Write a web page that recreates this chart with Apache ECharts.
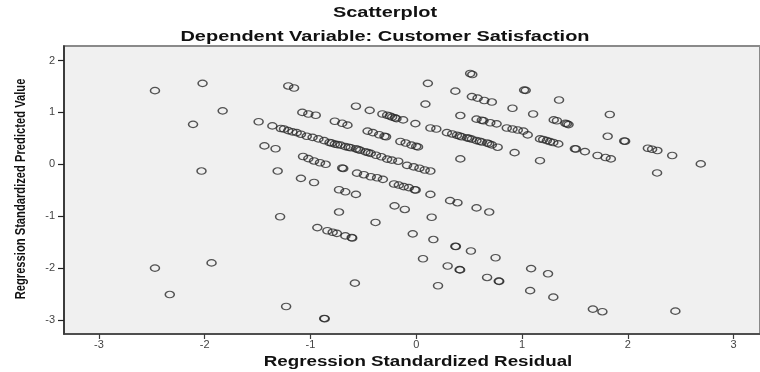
<!DOCTYPE html>
<html>
<head>
<meta charset="utf-8">
<title>Scatterplot</title>
<script src="https://cdn.jsdelivr.net/npm/echarts@6/dist/echarts.min.js"></script>
<style>
  html, body { margin: 0; padding: 0; background: #fff; }
  #chart { width: 760px; height: 372px; }
</style>
</head>
<body>
<div id="chart"></div>
<script>
// x = Regression Standardized Residual, y = Regression Standardized Predicted Value
const xTicks = [-3, -2, -1, 0, 1, 2, 3]
const yTicks = [-3, -2, -1, 0, 1, 2]

// points left of -0.9
const leftPoints = [
  [-2.47, 1.42], [-2.02, 1.56], [-1.83, 1.03], [-2.11, 0.77], [-1.21, 1.51], [-1.155, 1.47],
  [-1.49, 0.82], [-1.36, 0.74], [-1.28, 0.69], [-1.25, 0.68], [-1.21, 0.65], [-1.17, 0.625],
  [-1.13, 0.61], [-1.09, 0.58], [-1.035, 0.54], [-1.077, 1.0], [-1.02, 0.97], [-0.95, 0.945],
  [-1.435, 0.355], [-1.33, 0.30], [-1.07, 0.15], [-1.02, 0.11], [-0.966, 0.065], [-0.91, 0.03],
  [-0.856, 0.0], [-2.03, -0.13], [-1.31, -0.13], [-1.09, -0.27], [-0.966, -0.35],
  [-1.287, -1.01], [-2.47, -2.0], [-1.935, -1.90], [-2.33, -2.51], [-1.23, -2.74]
]

// upper middle
const upperPoints = [
  [0.51, 1.75], [0.53, 1.73], [0.11, 1.56], [0.37, 1.41], [0.526, 1.305], [0.58, 1.275],
  [0.643, 1.23], [0.715, 1.20], [0.91, 1.08], [1.02, 1.43], [1.035, 1.425], [0.087, 1.16],
  [-0.57, 1.12], [-0.44, 1.04], [-0.32, 0.97], [-0.275, 0.945], [-0.25, 0.93], [-0.228, 0.91],
  [-0.20, 0.895], [-0.187, 0.88], [-0.124, 0.856], [-0.008, 0.785], [0.417, 0.94],
  [-0.77, 0.83], [-0.70, 0.79], [-0.65, 0.755]
]

// the long dense diagonal bands
const bandPoints = [
  [-0.98, 0.52], [-0.925, 0.49], [-0.87, 0.457], [-0.82, 0.42], [-0.80, 0.41], [-0.77, 0.39],
  [-0.745, 0.38], [-0.715, 0.37], [-0.67, 0.34], [-0.64, 0.33], [-0.62, 0.32], [-0.57, 0.30],
  [-0.55, 0.285], [-0.53, 0.27], [-0.48, 0.24], [-0.455, 0.225], [-0.43, 0.21], [-0.38, 0.175],
  [-0.33, 0.145], [-0.275, 0.10], [-0.23, 0.08], [-0.17, 0.06], [-0.087, -0.02], [-0.024, -0.05],
  [0.03, -0.075], [0.08, -0.11], [0.134, -0.13],
  [-0.46, 0.64], [-0.41, 0.61], [-0.35, 0.57], [-0.30, 0.54], [-0.285, 0.53], [-0.15, 0.44],
  [-0.10, 0.41], [-0.045, 0.37], [0.0, 0.345], [0.017, 0.335], [0.134, 0.70], [0.19, 0.68],
  [0.29, 0.61], [0.34, 0.585], [0.385, 0.56], [0.41, 0.545], [0.43, 0.53], [0.48, 0.51],
  [0.50, 0.50], [0.526, 0.485], [0.57, 0.457], [0.60, 0.445], [0.62, 0.43], [0.67, 0.41],
  [0.69, 0.395], [0.715, 0.375], [0.77, 0.33], [0.93, 0.225], [0.417, 0.104],
  [0.57, 0.87], [0.62, 0.85], [0.636, 0.84], [0.70, 0.80], [0.76, 0.78], [0.856, 0.70],
  [0.91, 0.68], [0.96, 0.66], [1.013, 0.64], [1.054, 0.567]
]

// below zero, middle
const lowerPoints = [
  [-0.70, -0.07], [-0.69, -0.08], [-0.56, -0.17], [-0.495, -0.20], [-0.43, -0.24], [-0.37, -0.26],
  [-0.315, -0.29], [-0.21, -0.38], [-0.165, -0.40], [-0.118, -0.43], [-0.07, -0.45], [-0.014, -0.49],
  [-0.005, -0.495], [0.134, -0.58], [0.32, -0.70], [0.39, -0.74], [0.57, -0.84], [0.69, -0.92],
  [-0.73, -0.49], [-0.67, -0.53], [-0.57, -0.58], [-0.73, -0.92], [-0.205, -0.80], [-0.108, -0.87],
  [-0.385, -1.12], [0.146, -1.02], [-0.935, -1.22], [-0.84, -1.28], [-0.79, -1.31], [-0.75, -1.33],
  [-0.67, -1.38], [-0.605, -1.42], [-0.61, -1.41], [-0.033, -1.34], [0.162, -1.45], [0.37, -1.58],
  [0.375, -1.585], [0.517, -1.67], [0.75, -1.80], [0.064, -1.82], [0.297, -1.96], [0.41, -2.03],
  [0.415, -2.035], [0.67, -2.18], [0.78, -2.25], [0.785, -2.255], [-0.58, -2.29], [0.206, -2.34],
  [-0.87, -2.97], [-0.865, -2.975]
]

// right of 1
const rightPoints = [
  [1.35, 1.24], [1.105, 0.97], [1.83, 0.96], [1.30, 0.856], [1.33, 0.84], [1.41, 0.79],
  [1.425, 0.78], [1.44, 0.765], [1.17, 0.49], [1.20, 0.477], [1.235, 0.457], [1.265, 0.438],
  [1.296, 0.42], [1.343, 0.393], [1.81, 0.54], [1.966, 0.45], [1.975, 0.445], [1.17, 0.07],
  [1.50, 0.30], [1.51, 0.295], [1.595, 0.245], [1.714, 0.17], [1.79, 0.13], [1.84, 0.104],
  [2.19, 0.31], [2.23, 0.29], [2.28, 0.265], [2.42, 0.17], [2.69, 0.008], [2.277, -0.166],
  [1.086, -2.01], [1.246, -2.11], [1.077, -2.435], [1.296, -2.56], [1.67, -2.79], [1.76, -2.84],
  [2.45, -2.83]
]

const points = [].concat(leftPoints, upperPoints, bandPoints, lowerPoints, rightPoints)

const FONT = '"Liberation Sans", Arial, sans-serif'

const myChart = echarts.init(document.getElementById('chart'))

const option = {
  animation: false,
  grid: {
    left: 64,
    right: -2,
    top: 46,
    bottom: 38,
    show: true,
    backgroundColor: '#f0f0f0',
    borderColor: '#8a8a8a',
    borderWidth: 2,
  },
  // titles are stretched a little wider, like the original picture
  graphic: [
    {
      type: 'text', x: 385, y: 13, scaleX: 1.33,
      style: { text: 'Scatterplot', font: 'bold 15px ' + FONT, fill: '#111', textAlign: 'center', textVerticalAlign: 'middle' },
    },
    {
      type: 'text', x: 385, y: 37, scaleX: 1.33,
      style: { text: 'Dependent Variable: Customer Satisfaction', font: 'bold 15px ' + FONT, fill: '#111', textAlign: 'center', textVerticalAlign: 'middle' },
    },
    {
      type: 'text', x: 418, y: 362, scaleX: 1.34,
      style: { text: 'Regression Standardized Residual', font: 'bold 14px ' + FONT, fill: '#111', textAlign: 'center', textVerticalAlign: 'middle' },
    },
    {
      type: 'text', x: 21, y: 189, rotation: Math.PI / 2, scaleY: 1.35,
      style: { text: 'Regression Standardized Predicted Value', font: 'bold 11.2px ' + FONT, fill: '#111', textAlign: 'center', textVerticalAlign: 'middle' },
    },
  ],
  xAxis: {
    type: 'value',
    min: -3.33,
    max: 3.25,
    splitLine: { show: false },
    axisLine: { show: true, onZero: false, lineStyle: { color: '#3c3c3c', width: 1.5 } },
    axisTick: { show: true, length: 5, customValues: xTicks, lineStyle: { color: '#3c3c3c', width: 1.2 } },
    axisLabel: { customValues: xTicks, fontSize: 11, fontFamily: FONT, color: '#444', margin: 5 },
  },
  yAxis: {
    type: 'value',
    min: -3.27,
    max: 2.28,
    splitLine: { show: false },
    axisLine: { show: true, onZero: false, lineStyle: { color: '#222', width: 1.5 } },
    axisTick: { show: true, length: 6, customValues: yTicks, lineStyle: { color: '#222', width: 1.2 } },
    axisLabel: { customValues: yTicks, fontSize: 11, fontFamily: FONT, color: '#444', margin: 9 },
  },
  series: [
    {
      type: 'scatter',
      data: points,
      symbol: 'circle',
      symbolSize: [9, 6.5],
      silent: true,
      itemStyle: {
        color: 'rgba(0,0,0,0)',
        borderColor: '#2b2b2b',
        borderWidth: 1.3,
      },
    },
  ],
}

myChart.setOption(option)
</script>
</body>
</html>
